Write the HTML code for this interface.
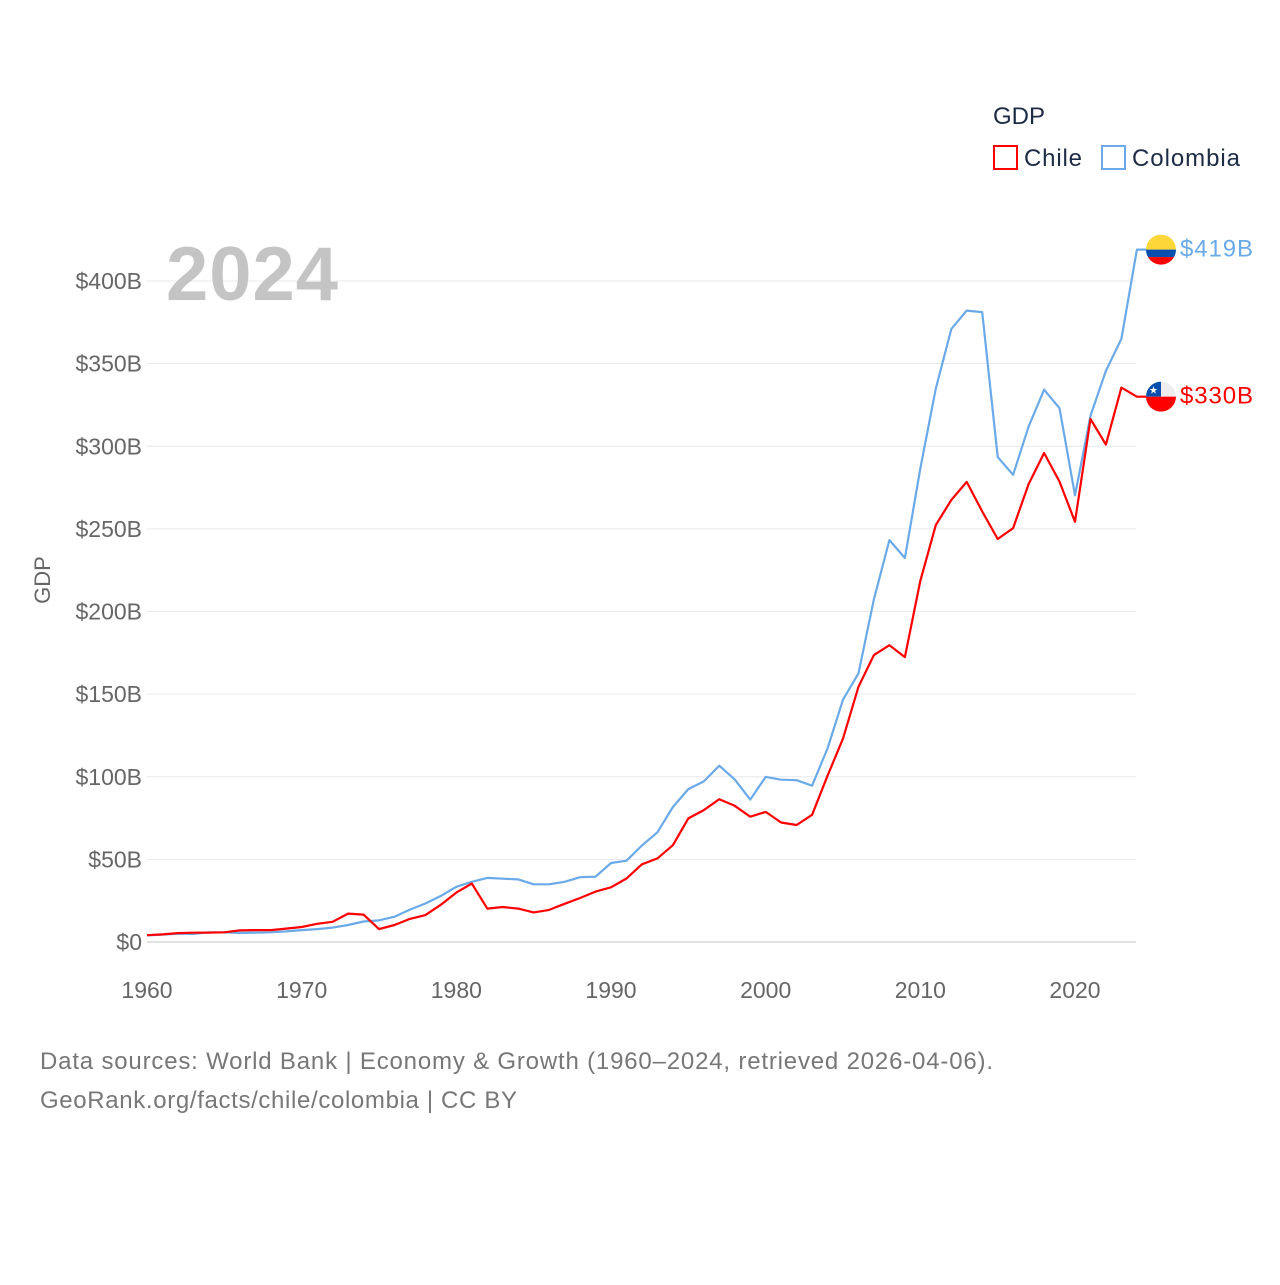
<!DOCTYPE html>
<html><head><meta charset="utf-8"><style>
body{margin:0;background:#fff;}
svg text{font-family:"Liberation Sans",sans-serif;}
</style></head><body>
<svg id="chart" width="1280" height="1280" xmlns="http://www.w3.org/2000/svg">
<rect width="1280" height="1280" fill="#fff"/>
<g id="grid"></g>
<g id="yticks"></g>
<g id="xticks"></g>
<text x="166" y="300" font-size="76" font-weight="bold" fill="#c4c4c4" textLength="172">2024</text>
<text transform="translate(50,580) rotate(-90)" text-anchor="middle" font-size="22" fill="#666">GDP</text>
<g id="series"></g>
<g>
<text x="993" y="124" font-size="24" fill="#1d2b45">GDP</text>
<g><rect x="994" y="146" width="23" height="23" fill="none" stroke="#f00" stroke-width="2"/><text x="1024" y="166" font-size="24" fill="#1d2b45" textLength="58">Chile</text></g>
<g><rect x="1102" y="146" width="23" height="23" fill="none" stroke="#6aaae8" stroke-width="2"/><text x="1132" y="166" font-size="24" fill="#1d2b45" textLength="108">Colombia</text></g>
</g>
<text x="40" y="1069" font-size="24" fill="#777" textLength="953">Data sources: World Bank | Economy &amp; Growth (1960–2024, retrieved 2026-04-06).</text>
<text x="40" y="1108" font-size="24" fill="#777" textLength="477">GeoRank.org/facts/chile/colombia | CC BY</text>
</svg>
<script>
const years=[];for(let y=1960;y<=2024;y++)years.push(y);
const chile=[4.1,4.6,5.4,5.6,5.7,5.9,7.0,7.2,7.2,8.1,9.1,11.0,12.2,17.2,16.6,7.8,10.3,14.0,16.3,22.6,29.9,35.4,20.2,21.2,20.2,17.9,19.4,23.1,26.6,30.5,33.1,38.4,47.0,50.6,58.6,74.8,79.8,86.4,82.4,75.8,78.7,72.3,70.8,77.0,100.6,123.1,154.5,173.6,179.6,172.4,218.5,252.3,267.5,278.4,260.6,243.9,250.4,277.1,295.9,278.6,254.3,316.5,301.0,335.5,330];
const colombia=[4.0,4.5,5.0,4.9,5.9,5.8,5.5,5.7,5.9,6.4,7.2,7.8,8.7,10.3,12.4,13.1,15.3,19.6,23.3,27.9,33.4,36.4,38.8,38.3,37.9,34.9,34.9,36.4,39.2,39.5,47.8,49.2,58.4,66.4,81.7,92.5,97.2,106.7,98.4,86.2,99.9,98.2,97.9,94.6,117.1,146.6,162.6,207.4,243.2,232.4,286.5,334.9,370.9,382.1,381.2,293.5,282.7,311.9,334.2,323.0,270.3,318.5,345.6,365.0,419];
const yTicks=[0,50,100,150,200,250,300,350,400];
const xTicks=[1960,1970,1980,1990,2000,2010,2020];
const NS="http://www.w3.org/2000/svg";
const xs=y=>147+(y-1960)*(1075-147)/60;
const ys=v=>942-v*(942-281)/400;
function mk(t,a,p){const e=document.createElementNS(NS,t);for(const k in a)e.setAttribute(k,a[k]);p.appendChild(e);return e;}
const grid=document.getElementById('grid'),yt=document.getElementById('yticks'),xt=document.getElementById('xticks'),ser=document.getElementById('series');
yTicks.forEach(v=>{
 const l=mk('line',{x1:147,x2:1136,y1:ys(v),y2:ys(v),stroke:v===0?'#e2e2e2':'#e6e9ee','stroke-width':v===0?2:1},grid);
 
 
 const t=mk('text',{x:142,y:ys(v)+8,'text-anchor':'end','font-size':23,fill:'#666'},yt);
 t.textContent='$'+v+(v?'B':'');
 
 
});
xTicks.forEach(y=>{
 const t=mk('text',{x:xs(y),y:998,'text-anchor':'middle','font-size':23,fill:'#666'},xt);
 t.textContent=y;
 
 
});
function line(vals,color,name){
 let d=vals.map((v,i)=>(i?'L':'M')+xs(years[i]).toFixed(1)+','+ys(v).toFixed(1)).join('');
 const last=vals[vals.length-1];
 d+='L'+(xs(2024)+10)+','+ys(last).toFixed(1);
 const p=mk('path',{d:d,fill:'none',stroke:color,'stroke-width':2.2,'stroke-linejoin':'round'},ser);
 
 
 const t=mk('text',{x:1180,y:ys(last)+7,'font-size':24,fill:color,textLength:73},ser);
 t.textContent='$'+last+'B';
 
 
 return ys(last);
}
const cy=line(colombia,'#6aaae8','colombia');
const hy=line(chile,'#f00','chile');
let cx=1161;
const fc=mk('g',{},ser);


mk('clipPath',{id:'cc'},fc).appendChild(document.createElementNS(NS,'circle'));
const c1=fc.querySelector('circle');c1.setAttribute('cx',cx);c1.setAttribute('cy',cy);c1.setAttribute('r',15);
const gc=mk('g',{'clip-path':'url(#cc)'},fc);
mk('rect',{x:cx-15,y:cy-15,width:30,height:15,fill:'#fcd73a'},gc);
mk('rect',{x:cx-15,y:cy,width:30,height:7.5,fill:'#0a4fad'},gc);
mk('rect',{x:cx-15,y:cy+7.5,width:30,height:8,fill:'#f00'},gc);
const fh=mk('g',{},ser);


mk('clipPath',{id:'ch'},fh).appendChild(document.createElementNS(NS,'circle'));
const c2=fh.querySelector('circle');c2.setAttribute('cx',cx);c2.setAttribute('cy',hy);c2.setAttribute('r',15);
const gh=mk('g',{'clip-path':'url(#ch)'},fh);
mk('rect',{x:cx-15,y:hy-15,width:30,height:15,fill:'#eee'},gh);
mk('rect',{x:cx-15,y:hy-15,width:15,height:15,fill:'#0a4fad'},gh);
mk('rect',{x:cx-15,y:hy,width:30,height:15,fill:'#f00'},gh);
const st=mk('text',{x:cx-7.5,y:hy-3,'text-anchor':'middle','font-size':10,fill:'#fff'},gh);st.textContent='★';
</script>
</body></html>
